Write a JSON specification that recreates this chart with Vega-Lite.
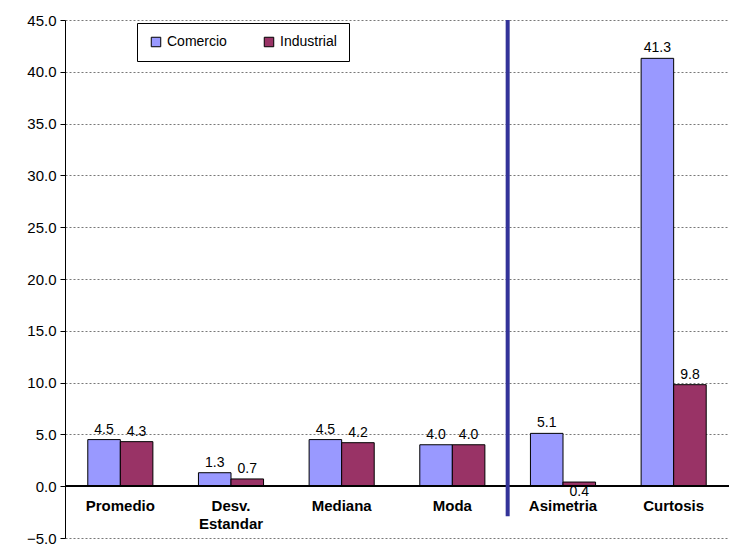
{
  "$schema": "https://vega.github.io/schema/vega-lite/v6.json",
  "autosize": "none",
  "width": 664,
  "height": 518,
  "padding": {"left": 65, "top": 20, "right": 1, "bottom": 9},
  "background": "white",
  "config": {"view": {"stroke": null}, "font": "Liberation Sans"},
  "data": {"values": [
    {"cat": "Promedio", "serie": "Comercio", "v": 4.5},
    {"cat": "Promedio", "serie": "Industrial", "v": 4.3},
    {"cat": "Desv. Estandar", "serie": "Comercio", "v": 1.3},
    {"cat": "Desv. Estandar", "serie": "Industrial", "v": 0.7},
    {"cat": "Mediana", "serie": "Comercio", "v": 4.5},
    {"cat": "Mediana", "serie": "Industrial", "v": 4.2},
    {"cat": "Moda", "serie": "Comercio", "v": 4.0},
    {"cat": "Moda", "serie": "Industrial", "v": 4.0},
    {"cat": "Asimetria", "serie": "Comercio", "v": 5.1},
    {"cat": "Asimetria", "serie": "Industrial", "v": 0.4},
    {"cat": "Curtosis", "serie": "Comercio", "v": 41.3},
    {"cat": "Curtosis", "serie": "Industrial", "v": 9.8}
  ]},
  "encoding": {
    "x": {"field": "cat", "type": "nominal", "sort": null, "axis": null,
      "scale": {"paddingInner": 0, "paddingOuter": 0}}
  },
  "layer": [
    {
      "mark": {"type": "bar", "stroke": "black", "strokeWidth": 1},
      "encoding": {
        "xOffset": {"field": "serie", "type": "nominal", "scale": {"paddingOuter": 0.7, "paddingInner": 0}},
        "y": {"field": "v", "type": "quantitative",
          "scale": {"domain": [-5, 45], "nice": false},
          "axis": {"values": [-5, 0, 5, 10, 15, 20, 25, 30, 35, 40, 45], "format": ".1f", "title": null,
            "labelFontSize": 15, "labelColor": "black", "domainColor": "black", "tickColor": "black",
            "gridColor": "#555", "gridDash": [2, 2], "gridWidth": 0.8, "labelPadding": 4}},
        "color": {"field": "serie", "type": "nominal",
          "scale": {"domain": ["Comercio", "Industrial"], "range": ["#9999FF", "#993366"]},
          "legend": {"title": null, "orient": "none", "legendX": 72, "legendY": 3, "direction": "horizontal",
            "strokeColor": "black", "fillColor": "white", "padding": 12, "labelFontSize": 14,
            "symbolType": "square", "symbolStrokeColor": "black", "symbolStrokeWidth": 1, "symbolSize": 90,
            "columnPadding": 35, "labelLimit": 200}}
      }
    },
    {
      "transform": [{"filter": "datum.v > 0.5"}],
      "mark": {"type": "text", "dy": -10, "fontSize": 14},
      "encoding": {
        "xOffset": {"field": "serie", "type": "nominal"},
        "y": {"field": "v", "type": "quantitative"},
        "text": {"field": "v", "type": "quantitative", "format": ".1f"}
      }
    },
    {
      "transform": [{"filter": "datum.v <= 0.5"}],
      "mark": {"type": "text", "dy": 10, "fontSize": 14},
      "encoding": {
        "xOffset": {"field": "serie", "type": "nominal"},
        "y": {"field": "v", "type": "quantitative"},
        "text": {"field": "v", "type": "quantitative", "format": ".1f"}
      }
    },
    {
      "transform": [{"filter": "datum.serie == 'Comercio'"}],
      "mark": {"type": "text", "fontWeight": "bold", "fontSize": 15, "baseline": "top", "dy": 13, "lineBreak": " ", "lineHeight": 18},
      "encoding": {
        "y": {"datum": 0},
        "text": {"field": "cat"}
      }
    },
    {
      "mark": {"type": "rule", "color": "black", "strokeWidth": 1},
      "encoding": {"y": {"datum": 0}, "x": null}
    },
    {
      "transform": [{"filter": "datum.cat == 'Asimetria' && datum.serie == 'Comercio'"}],
      "mark": {"type": "rule", "color": "#333399", "strokeWidth": 4},
      "encoding": {
        "x": {"field": "cat", "type": "nominal", "bandPosition": 0},
        "y": {"datum": 45},
        "y2": {"datum": -2.9}
      }
    }
  ]
}
